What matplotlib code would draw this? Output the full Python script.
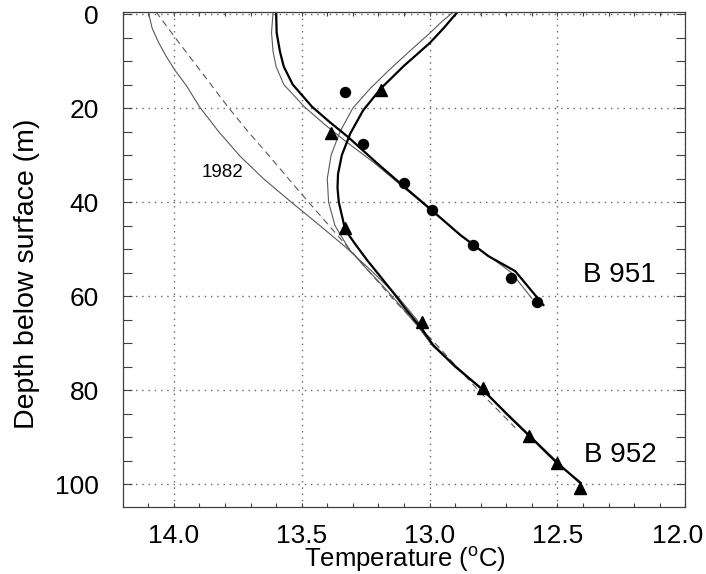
import numpy as np
import matplotlib
matplotlib.use("Agg")
import matplotlib.pyplot as plt
from matplotlib.ticker import MultipleLocator, FuncFormatter

plt.rcParams['font.family'] = ['Liberation Sans', 'DejaVu Sans']

# B 951 measured (dots) and B 952 measured (triangles): (temperature, depth)
b951_T = [13.33, 13.26, 13.10, 12.99, 12.83, 12.68, 12.58]
b951_D = [16.5, 27.6, 36.0, 41.7, 49.1, 56.1, 61.3]
b952_T = [13.19, 13.385, 13.33, 13.03, 12.79, 12.61, 12.50, 12.41]
b952_D = [16.2, 25.2, 45.6, 65.5, 79.6, 89.8, 95.6, 100.9]

# B 951 model curves
m951_thick_T = [13.60, 13.598, 13.585, 13.57, 13.535, 13.46, 13.39, 13.32, 13.21,
                13.10, 12.99, 12.88, 12.77, 12.665, 12.61, 12.555]
m951_thick_D = [-0.5, 4, 8, 11.2, 15, 19.7, 23, 26.1, 31.5, 36.7, 41.8, 47, 51.5,
                54.7, 58.3, 61.9]
m951_thin_T = [13.612, 13.618, 13.612, 13.60, 13.57, 13.49, 13.41, 13.33, 13.22,
               13.11, 13.00, 12.89, 12.78, 12.68, 12.60]
m951_thin_D = [-0.5, 4, 8, 11.2, 15, 19.7, 23.5, 27, 31.5, 36.5, 41.5, 46.5, 51,
               55, 60.5]

# B 952 model curves
m952_thick_T = [12.89, 12.945, 13.00, 13.10, 13.19, 13.26, 13.31, 13.343, 13.358,
                13.36, 13.355, 13.33, 13.29, 13.245, 13.19, 13.14, 13.09, 13.037,
                12.985, 12.90, 12.79, 12.70, 12.607, 12.50, 12.41]
m952_thick_D = [-0.5, 3, 6.2, 11, 15.8, 20.5, 25.4, 30, 34, 37, 40, 45.9, 49, 52.3,
                56, 59.4, 63, 66.5, 70.5, 75, 80, 85, 89.9, 95.6, 99.7]
m952_thin_T = [12.905, 12.95, 13.00, 13.08, 13.16, 13.235, 13.30, 13.35, 13.385,
               13.40, 13.395, 13.37, 13.315, 13.25, 13.18, 13.115, 13.045, 12.99,
               12.80, 12.61, 12.50, 12.42]
m952_thin_D = [-0.5, 1.5, 4.1, 8, 12, 16, 20, 25, 30, 35, 40, 45, 50, 54, 58, 62,
               66.5, 70.5, 79.5, 89.5, 95.3, 99.5]

# 1982 profile and dashed curve
y1982_T = [14.10, 14.085, 14.06, 14.03, 13.995, 13.95, 13.90, 13.825, 13.74, 13.65,
           13.55, 13.44, 13.33, 13.22, 13.125, 13.05, 12.99, 12.895, 12.795, 12.70,
           12.605, 12.505, 12.41]
y1982_D = [-0.5, 3, 6, 9, 12, 15.3, 19.7, 25, 30.3, 35, 39.6, 44.5, 49.5, 55, 60.1,
           65, 70.1, 75, 80, 85, 90, 95, 100]
dash_T = [14.07, 13.995, 13.925, 13.855, 13.785, 13.71, 13.63, 13.515, 13.39,
          13.265, 13.14, 12.965, 12.81, 12.665]
dash_D = [-0.5, 5, 10, 15, 20, 25, 30, 37.4, 45.2, 53, 60.8, 70.8, 80, 88]

fig = plt.figure(figsize=(7.06, 5.74), dpi=100)
ax = fig.add_axes([0.1738, 0.1173, 0.7969, 0.8623])

thin = dict(color='0.35', lw=0.8)
ax.plot(y1982_T, y1982_D, **thin)
ax.plot(dash_T, dash_D, color='0.35', lw=0.8, dashes=(6, 4))
ax.plot(m951_thin_T, m951_thin_D, **thin)
ax.plot(m952_thin_T, m952_thin_D, **thin)
ax.plot(m951_thick_T, m951_thick_D, color='black', lw=1.6)
ax.plot(m952_thick_T, m952_thick_D, color='black', lw=1.6)
ax.plot(b951_T, b951_D, 'o', color='black', ms=7.2, zorder=5)
ax.plot(b952_T, b952_D, '^', color='black', ms=8.5, zorder=5)

ax.text(13.81, 34.7, '1982', fontsize=13.5, ha='center', va='baseline')
ax.text(12.256, 56.9, 'B 951', fontsize=20, ha='center', va='baseline')
ax.text(12.254, 95.2, 'B 952', fontsize=20, ha='center', va='baseline')

ax.set_xlim(14.2, 12.0)
ax.set_ylim(104.8, -0.5)
ax.xaxis.set_major_locator(MultipleLocator(0.5))
ax.xaxis.set_minor_locator(MultipleLocator(0.1))
ax.yaxis.set_major_locator(MultipleLocator(20))
ax.yaxis.set_minor_locator(MultipleLocator(5))
# the 12.0 label at the right edge is drawn separately, nudged inwards
ax.xaxis.set_major_formatter(FuncFormatter(lambda v, p: '' if abs(v - 12.0) < 1e-6 else '%.1f' % v))

ax.tick_params(axis='x', which='both', direction='in', top=True, length=3,
               width=0.8, color='0.25', labelsize=19, pad=12.5)
ax.tick_params(axis='y', which='both', direction='in', right=True, length=6.5,
               width=0.8, color='0.25', labelsize=19, pad=17)
for s in ax.spines.values():
    s.set_color('0.25')
    s.set_linewidth(0.9)

ax.grid(True, which='major', color='0.4', lw=1.0, linestyle=(0, (1, 3.5)))

ax.annotate('12.0', xy=(12.0, 0), xycoords=('data', 'axes fraction'),
            xytext=(-5.5, -12.5), textcoords='offset points',
            ha='center', va='top', fontsize=19)

fig.text(405 / 706, 1 - 567 / 574, 'Temperature ($\\mathregular{^{o}}$C)',
         fontsize=18.5, ha='center', va='baseline')
fig.text(26.7 / 706, 1 - 273.5 / 574, 'Depth below surface (m)', fontsize=20.5,
         rotation=90, ha='center', va='center')

fig.savefig('out.png', dpi=100)
